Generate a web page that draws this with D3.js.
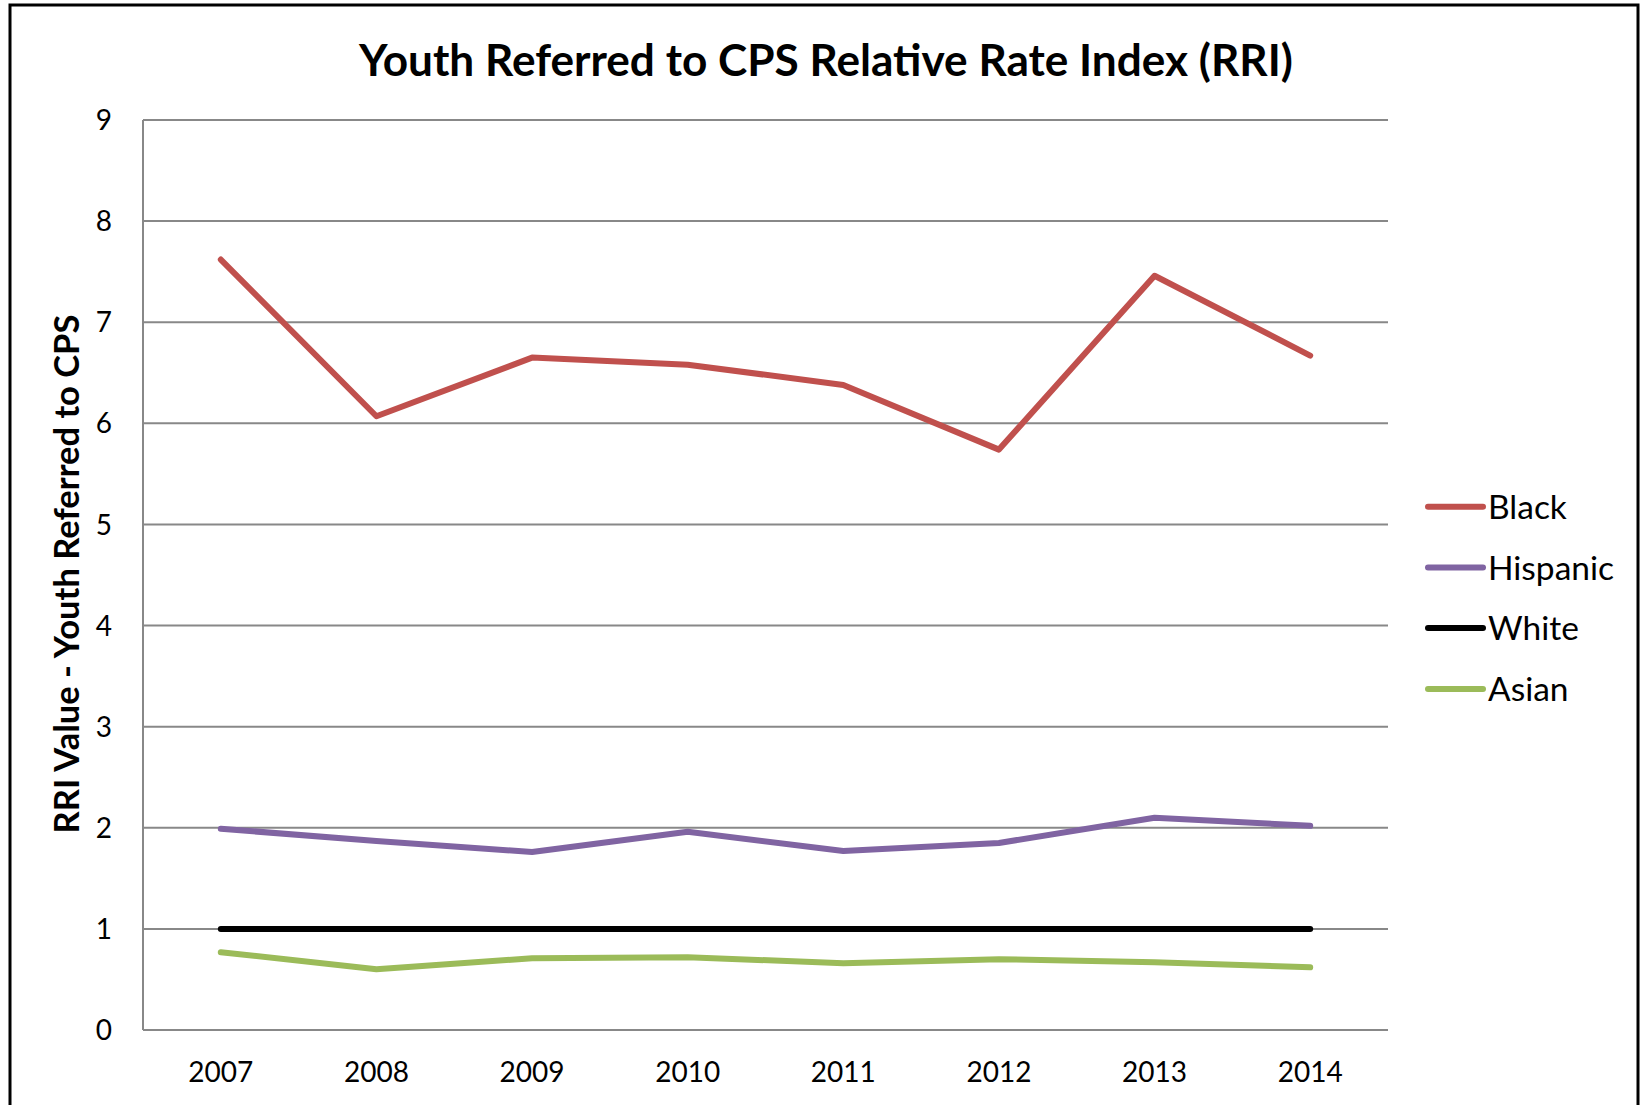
<!DOCTYPE html>
<html>
<head>
<meta charset="utf-8">
<script src="https://cdn.jsdelivr.net/npm/d3@7"></script>
<style>
  html, body { margin: 0; padding: 0; background: #fff; }
  svg { display: block; }
  text { font-family: Lato, "Open Sans", sans-serif; fill: #000; }
</style>
</head>
<body>
<svg id="chart" width="1642" height="1105"></svg>
<script>
// ---- data ----
const years = ["2007", "2008", "2009", "2010", "2011", "2012", "2013", "2014"];
const seriesNames = ["Black", "Hispanic", "White", "Asian"];
const black    = [7.62, 6.07, 6.65, 6.58, 6.38, 5.74, 7.46, 6.67];
const hispanic = [1.99, 1.87, 1.76, 1.96, 1.77, 1.85, 2.10, 2.02];
const white    = [1, 1, 1, 1, 1, 1, 1, 1];
const asian    = [0.77, 0.60, 0.71, 0.72, 0.66, 0.70, 0.67, 0.62];
const yTicks   = [0, 1, 2, 3, 4, 5, 6, 7, 8, 9];
const titleText = "Youth Referred to CPS Relative Rate Index (RRI)";
const yTitleText = "RRI Value - Youth Referred to CPS";

const seriesValues = [black, hispanic, white, asian];
const colors = ["#C0504D", "#8064A2", "#000000", "#9BBB59"];

// ---- layout ----
const svg = d3.select("#chart");
const plot = { left: 143, right: 1388, top: 120, bottom: 1030 };

// outer frame
svg.append("rect")
  .attr("x", 10).attr("y", 5)
  .attr("width", 1628).attr("height", 1250)
  .attr("fill", "none").attr("stroke", "#000").attr("stroke-width", 3);

function fitWidth(sel, target) {
  const w = sel.node().getComputedTextLength();
  const fs = parseFloat(sel.attr("font-size"));
  sel.attr("font-size", fs * target / w);
}

const x = d3.scalePoint().domain(years).range([plot.left, plot.right]).padding(0.5);
const y = d3.scaleLinear().domain([0, 9]).range([plot.bottom, plot.top]);

// gridlines
svg.append("g").selectAll("line").data(yTicks.filter(d => d > 0)).join("line")
  .attr("x1", plot.left).attr("x2", plot.right)
  .attr("y1", d => y(d)).attr("y2", d => y(d))
  .attr("stroke", "#888").attr("stroke-width", 2);

// axis lines
svg.append("line").attr("x1", plot.left).attr("x2", plot.left)
  .attr("y1", plot.top).attr("y2", plot.bottom)
  .attr("stroke", "#888").attr("stroke-width", 2);
svg.append("line").attr("x1", plot.left).attr("x2", plot.right)
  .attr("y1", plot.bottom).attr("y2", plot.bottom)
  .attr("stroke", "#888").attr("stroke-width", 2);

// y tick labels
svg.append("g").selectAll("text").data(yTicks).join("text")
  .attr("x", 112).attr("y", d => y(d)).attr("dy", "0.36em")
  .attr("text-anchor", "end").attr("font-size", 28)
  .text(d => d);

// x tick labels
svg.append("g").selectAll("text").data(years).join("text")
  .attr("x", d => x(d)).attr("y", 1082)
  .attr("text-anchor", "middle").attr("font-size", 28)
  .text(d => d);

// lines
const line = d3.line().x((d, i) => x(years[i])).y(d => y(d));
svg.append("g").selectAll("path").data(seriesValues).join("path")
  .attr("d", d => line(d))
  .attr("fill", "none")
  .attr("stroke", (d, i) => colors[i])
  .attr("stroke-width", 6)
  .attr("stroke-linecap", "round")
  .attr("stroke-linejoin", "round");

// title
const title = svg.append("text")
  .attr("x", 826).attr("y", 76)
  .attr("text-anchor", "middle").attr("font-weight", "bold")
  .attr("font-size", 40).text(titleText);
fitWidth(title, 934);

// y axis title
const yTitle = svg.append("text")
  .attr("transform", "translate(79,574) rotate(-90)")
  .attr("text-anchor", "middle").attr("font-weight", "bold")
  .attr("font-size", 30).text(yTitleText);
fitWidth(yTitle, 519);

// legend
const legendY = [506.7, 567.5, 628, 689];
const lg = svg.append("g").selectAll("g").data(seriesNames).join("g");
lg.append("line")
  .attr("x1", 1428).attr("x2", 1483)
  .attr("y1", (d, i) => legendY[i]).attr("y2", (d, i) => legendY[i])
  .attr("stroke", (d, i) => colors[i]).attr("stroke-width", 6)
  .attr("stroke-linecap", "round");
lg.append("text")
  .attr("x", 1488).attr("y", (d, i) => legendY[i]).attr("dy", "0.36em")
  .attr("font-size", 33.5)
  .text(d => d);
</script>
</body>
</html>
